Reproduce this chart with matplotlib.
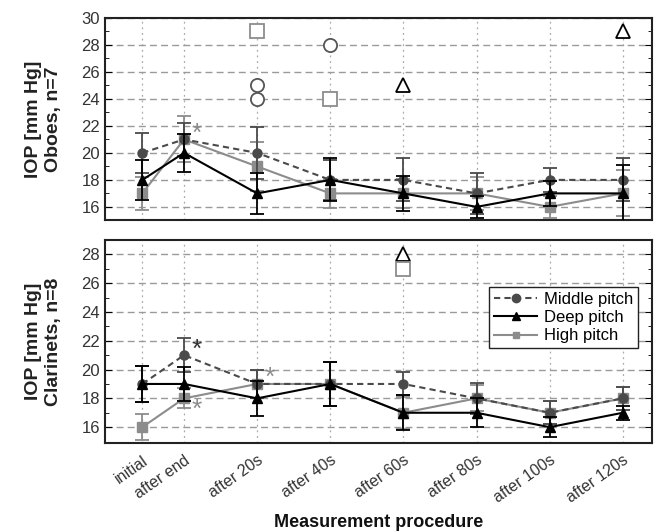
import matplotlib

matplotlib.use("Agg")
import matplotlib.pyplot as plt  # noqa: E402
from matplotlib.lines import Line2D  # noqa: E402
from matplotlib.ticker import MultipleLocator  # noqa: E402

plt.rcParams["font.family"] = ["Liberation Sans", "DejaVu Sans"]

# measurement steps; "initial" sits closer to "after end" in the original
steps = ["initial", "after end", "after 20s", "after 40s",
         "after 60s", "after 80s", "after 100s", "after 120s"]
x_pos = [-0.57, 0, 1, 2, 3, 4, 5, 6]

# Oboes, n=7
obo_mid = [20, 21, 20, 18, 18, 17, 18, 18]
obo_mid_err = [1.5, 1.2, 1.9, 1.5, 1.6, 1.5, 0.9, 1.6]
obo_deep = [18, 20, 17, 18, 17, 16, 17, 17]
obo_deep_err = [1.5, 1.4, 1.5, 1.6, 1.3, 0.8, 0.9, 2.1]
obo_high = [17, 21, 19, 17, 17, 17, 16, 17]
obo_high_err = [1.2, 1.7, 1.8, 1.1, 1.1, 1.2, 0.8, 1.7]
# outliers (step index, value)
obo_out_mid = [(2, 25), (2, 24), (3, 28)]
obo_out_deep = [(4, 25), (7, 29)]
obo_out_high = [(2, 29), (3, 24)]

# Clarinets, n=8
cla_mid = [19, 21, 19, 19, 19, 18, 17, 18]
cla_mid_err = [1.25, 1.2, 1.0, 1.5, 0.8, 1.1, 0.8, 0.8]
cla_deep = [19, 19, 18, 19, 17, 17, 16, 17]
cla_deep_err = [1.25, 1.2, 1.2, 1.5, 1.2, 1.0, 0.7, 0.5]
cla_high = [16, 18, 19, 19, 17, 18, 17, 18]
cla_high_err = [0.9, 0.7, 1.0, 1.5, 1.1, 0.9, 0.8, 0.8]
cla_out_deep = [(4, 28)]
cla_out_high = [(4, 27)]

MID_C, DEEP_C, HIGH_C = "#4a4a4a", "#000000", "#8c8c8c"
MID_LS = (0, (3, 2))


def panel(ax, mid, mid_e, deep, deep_e, high, high_e, outs, ylim, ytop):
    ax.set_xlim(-1.08, 6.4)
    ax.set_ylim(*ylim)
    ax.yaxis.set_minor_locator(MultipleLocator(1))
    ax.set_yticks(range(16, ytop + 1, 2))
    ax.set_xticks(x_pos)
    for xp in x_pos:
        ax.axvline(xp, color="#aaaaaa", ls=(0, (1.5, 3)), lw=0.9, zorder=0)
    for yv in range(16, ytop + 1, 2):
        ax.axhline(yv, color="#9a9a9a", ls=(0, (5, 3)), lw=1.0, zorder=0)

    kw = dict(capsize=5, elinewidth=1.3, capthick=1.3, lw=1.5, ms=6.5)
    ax.errorbar(x_pos, high, yerr=high_e, color=HIGH_C, marker="s",
                ls="-", zorder=3, **kw)
    ax.errorbar(x_pos, mid, yerr=mid_e, color=MID_C, marker="o",
                ls=MID_LS, zorder=4, **kw)
    ax.errorbar(x_pos, deep, yerr=deep_e, color=DEEP_C, marker="^",
                ls="-", zorder=5, **kw)

    for pts, mk, col in outs:
        for i, v in pts:
            ax.plot(x_pos[i], v, marker=mk, ms=9.5, mfc="white", mec=col,
                    mew=1.3, ls="none", zorder=6)

    ax.tick_params(axis="y", which="both", direction="in", right=True,
                   labelsize=12, labelcolor="#333333")
    ax.tick_params(axis="y", which="major", length=5)
    ax.tick_params(axis="y", which="minor", length=3)
    ax.tick_params(axis="x", length=0)
    for s in ax.spines.values():
        s.set_linewidth(1.5)
        s.set_color("#222222")


fig = plt.figure(figsize=(6.54, 5.32), dpi=100)
ax1 = fig.add_axes([0.1606, 0.5865, 0.8364, 0.3797])
ax2 = fig.add_axes([0.1606, 0.1673, 0.8364, 0.3816])

panel(ax1, obo_mid, obo_mid_err, obo_deep, obo_deep_err, obo_high, obo_high_err,
      [(obo_out_mid, "o", "#555555"), (obo_out_deep, "^", "#000000"),
       (obo_out_high, "s", "#8c8c8c")], (15.03, 30), 30)
ax1.set_xticklabels([])
ax1.text(x_pos[1] + 0.1, 21.4, "*", color="#8c8c8c", fontsize=19, va="center")
ax1.set_ylabel("IOP [mm Hg]\nOboes, n=7", fontsize=14, fontweight="bold",
               labelpad=14, color="#222222")

panel(ax2, cla_mid, cla_mid_err, cla_deep, cla_deep_err, cla_high, cla_high_err,
      [(cla_out_deep, "^", "#000000"), (cla_out_high, "s", "#8c8c8c")],
      (14.9, 29), 28)
ax2.set_xticklabels(steps, rotation=35, ha="right", rotation_mode="anchor",
                    fontsize=11.5, color="#333333")
ax2.tick_params(axis="x", pad=7)
ax2.text(x_pos[1] + 0.1, 21.4, "*", color="#333333", fontsize=19, va="center")
ax2.text(x_pos[1] + 0.1, 17.2, "*", color="#8c8c8c", fontsize=19, va="center")
ax2.text(x_pos[2] + 0.1, 19.4, "*", color="#8c8c8c", fontsize=19, va="center")
ax2.set_ylabel("IOP [mm Hg]\nClarinets, n=8", fontsize=14, fontweight="bold",
               labelpad=14, color="#222222")
ax2.set_xlabel("Measurement procedure", fontsize=13, fontweight="bold",
               labelpad=6, color="#111111")

handles = [
    Line2D([], [], color=MID_C, ls=MID_LS, lw=1.5, marker="o", ms=6),
    Line2D([], [], color=DEEP_C, ls="-", lw=1.5, marker="^", ms=6),
    Line2D([], [], color=HIGH_C, ls="-", lw=1.5, marker="s", ms=5),
]
leg = ax2.legend(handles, ["Middle pitch", "Deep pitch", "High pitch"],
                 loc="upper right", bbox_to_anchor=(0.975, 0.77),
                 borderaxespad=0, fontsize=12, handlelength=2.6,
                 fancybox=False, framealpha=1, edgecolor="#222222",
                 borderpad=0.3, labelspacing=0.2, handletextpad=0.4)
leg.get_frame().set_linewidth(1.0)

fig.savefig("out.png", dpi=100)
